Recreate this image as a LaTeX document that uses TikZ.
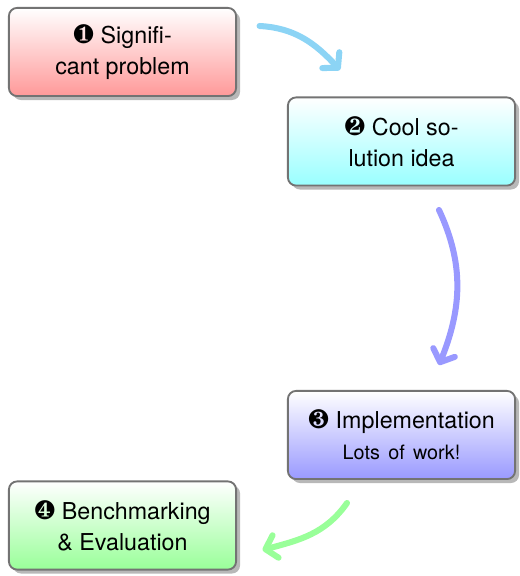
\documentclass[tikz,border=0pt]{standalone}
\usepackage{fontspec}
\setmainfont{TeX Gyre Heros}
\usepackage{pifont}
\usepackage{xcolor}
\usetikzlibrary{shadows,arrows.meta}

\definecolor{skyarrow}{RGB}{140,212,245}

\begin{document}
\begin{tikzpicture}[x=0.43pt,y=0.43pt]
      \def\bignum#1{{\fontsize{11.5}{13.3}\selectfont\ding{#1}}}
      \tikzset{box/.style={rectangle,draw=black!55,line width=0.8pt,rounded corners=3.5pt,
        minimum width=97.7pt,minimum height=37.9pt,align=center,inner sep=2pt,
        font=\fontsize{10}{13.3}\selectfont,
        drop shadow={shadow xshift=1.7pt,shadow yshift=-1.7pt,fill=black!28,opacity=1}}}
      \tikzset{prob/.style={box,top color=white,bottom color=red!40}}
      \tikzset{idea/.style={box,top color=white,bottom color=cyan!40}}
      \tikzset{impl/.style={box,top color=white,bottom color=blue!40}}
      \tikzset{eval/.style={box,top color=white,bottom color=green!40}}
      \tikzset{arr/.style={line width=2.6pt,line cap=round,-{Straight Barb[round,length=4.5pt,width=10pt]}}}

      \useasboundingbox (0,0) rectangle (520,576);

      \node[prob] (prob) at (122.5,524) {\bignum{182} Signifi-\\cant problem};
      \node[idea] (idea) at (401.5,434.5) {\bignum{183} Cool so-\\lution idea};
      \node[impl] (impl) at (401.5,141) {\bignum{184} Implementation\\{\fontsize{8.5}{13.3}\selectfont\spaceskip=3.6pt Lots of work!}};
      \node[eval] (eval) at (122.5,50.5) {\bignum{185} Benchmarking\\\& Evaluation};

      % arrow ends
      \coordinate (p1) at ([shift={(22.5,26)}]prob.east);
      \coordinate (i1) at ([shift={(-61.5,26.5)}]idea.north);
      \coordinate (i2) at ([shift={(37.5,-23.5)}]idea.south);
      \coordinate (m1) at ([shift={(37.5,25)}]impl.north);
      \coordinate (m2) at ([shift={(-54.5,-23)}]impl.south);
      \coordinate (e1) at ([shift={(25.5,-24.5)}]eval.east);

      \draw[arr,skyarrow] (p1) to[out=-3,in=133] (i1);
      \draw[arr,blue!40] (i2) to[out=-65,in=68] (m1);
      \draw[arr,green!40] (m2) to[out=-125,in=15] (e1);
\end{tikzpicture}
\end{document}
